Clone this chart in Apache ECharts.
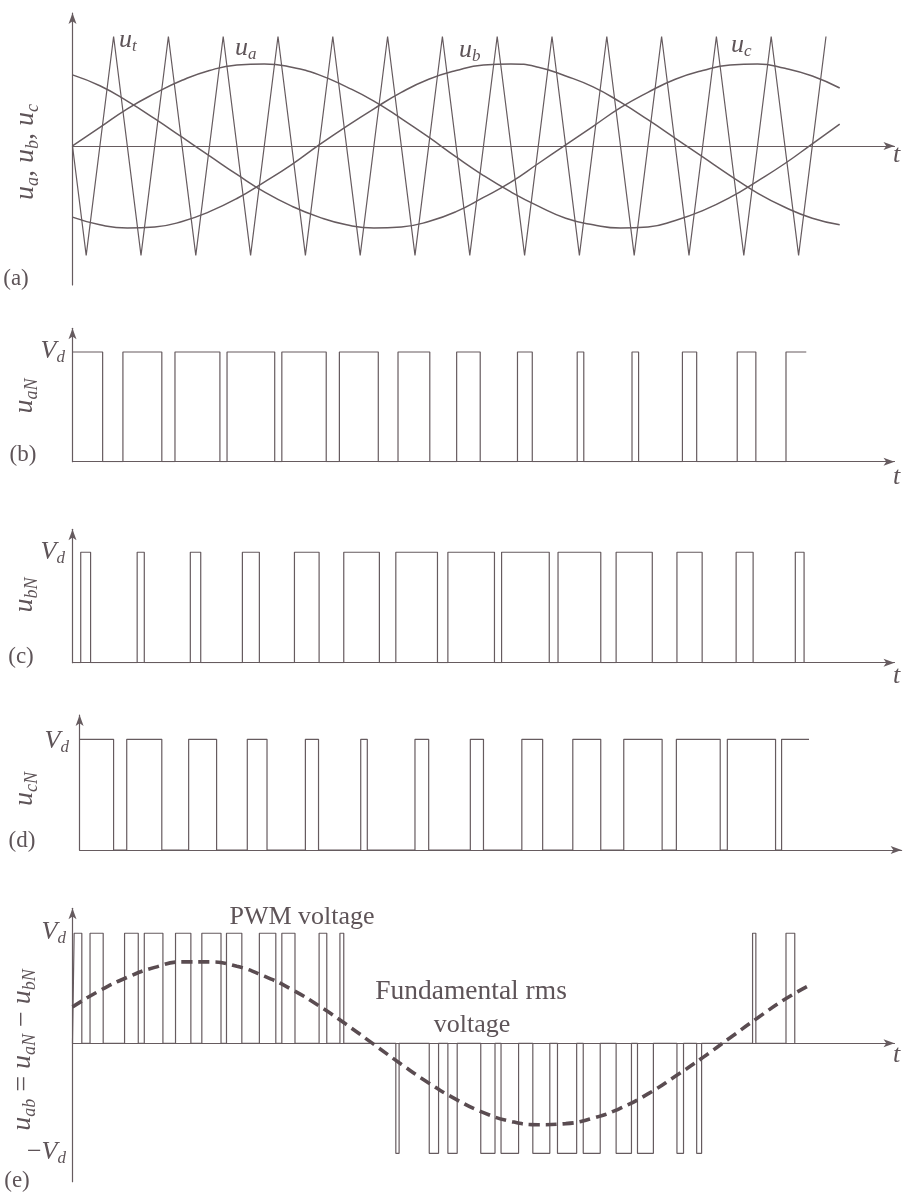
<!DOCTYPE html>
<html>
<head>
<meta charset="utf-8">
<script src="https://cdn.jsdelivr.net/npm/echarts@6/dist/echarts.min.js"></script>
<style>
html,body{margin:0;padding:0;background:#fff;}
#chart{width:905px;height:1198px;}
</style>
</head>
<body>
<div id="chart"></div>
<script>
// ---------- DATA (time in carrier periods, amplitude in p.u.) ----------
// (a) triangular carrier vertices
const carrierT = [0, 0.25, 0.75, 1.25, 1.75, 2.25, 2.75, 3.25, 3.75, 4.25, 4.75, 5.25, 5.75, 6.25, 6.75,
  7.25, 7.75, 8.25, 8.75, 9.25, 9.75, 10.25, 10.75, 11.25, 11.75, 12.25, 12.75, 13.25, 13.75];
const carrierV = [0, -1, 1, -1, 1, -1, 1, -1, 1, -1, 1, -1, 1, -1, 1,
  -1, 1, -1, 1, -1, 1, -1, 1, -1, 1, -1, 1, -1, 1];
// (a) reference sine waves, sampled
const sineT = [0, 0.5, 1, 1.5, 2, 2.5, 3, 3.5, 4, 4.5, 5, 5.5, 6, 6.5, 7, 7.5, 8, 8.5, 9, 9.5,
  10, 10.5, 11, 11.5, 12, 12.5, 13, 13.5, 14];
const ua = [0, 0.17, 0.34, 0.48, 0.60, 0.69, 0.74, 0.75, 0.72, 0.65, 0.54, 0.41, 0.25, 0.08, -0.10,
  -0.27, -0.42, -0.55, -0.66, -0.72, -0.75, -0.74, -0.68, -0.59, -0.47, -0.32, -0.16, 0.02, 0.20];
const ub = [-0.65, -0.72, -0.75, -0.74, -0.69, -0.60, -0.48, -0.33, -0.17, 0.01, 0.18, 0.34, 0.49, 0.61, 0.69,
  0.74, 0.75, 0.72, 0.64, 0.54, 0.40, 0.24, 0.07, -0.10, -0.27, -0.43, -0.56, -0.66, -0.72];
const uc = [0.65, 0.55, 0.41, 0.25, 0.08, -0.09, -0.26, -0.42, -0.55, -0.65, -0.72, -0.75, -0.74, -0.69, -0.60,
  -0.47, -0.33, -0.16, 0.01, 0.18, 0.35, 0.49, 0.61, 0.69, 0.74, 0.75, 0.71, 0.64, 0.53];

// (b) u_aN switching instants (starts high)
const uaNEdges = [0.55, 0.92, 1.63, 1.87, 2.69, 2.82, 3.69, 3.82, 4.63, 4.87, 5.58, 5.94, 6.52, 7.01,
  7.44, 8.12, 8.39, 9.21, 9.33, 10.21, 10.33, 11.13, 11.39, 12.13, 12.47, 13.02];
const uaNStart = 1, uaNEnd = 13.39;
// (c) u_bN switching instants (starts low)
const ubNEdges = [0.15, 0.33, 1.18, 1.31, 2.15, 2.34, 3.10, 3.41, 4.05, 4.50, 4.95, 5.60, 5.90, 6.66,
  6.85, 7.70, 7.83, 8.70, 8.86, 9.64, 9.92, 10.58, 11.03, 11.49, 12.11, 12.42, 13.19, 13.35];
const ubNStart = 0, ubNEnd = 13.35;
// (d) u_cN switching instants (starts high)
const ucNEdges = [0.62, 0.86, 1.50, 1.99, 2.50, 3.06, 3.42, 4.12, 4.36, 5.13, 5.25, 6.12, 6.37, 7.13,
  7.37, 8.07, 8.45, 9.00, 9.51, 9.93, 10.63, 10.89, 11.69, 11.82, 12.70, 12.81];
const ucNStart = 1, ucNEnd = 13.31;
// (e) line-to-line PWM pulses
const uabStart = [0.03, 0.32, 0.95, 1.31, 1.88, 2.36, 2.81, 3.41, 3.82, 4.50, 4.88,
  5.90, 6.51, 6.85, 7.45, 7.82, 8.40, 8.85, 9.32, 9.92, 10.31, 11.03, 11.39, 12.41, 13.02];
const uabEnd = [0.17, 0.56, 1.20, 1.65, 2.16, 2.71, 3.09, 3.71, 4.06, 4.64, 4.95,
  5.96, 6.68, 7.02, 7.71, 8.14, 8.71, 9.20, 9.63, 10.20, 10.60, 11.15, 11.48, 12.47, 13.18];
const uabLevel = [1, 1, 1, 1, 1, 1, 1, 1, 1, 1, 1,
  -1, -1, -1, -1, -1, -1, -1, -1, -1, -1, -1, -1, 1, 1];
// (e) fundamental (dashed)
const fundT = [0, 0.5, 1, 1.5, 2, 2.5, 3, 3.5, 4, 4.5, 5, 5.5, 6, 6.5, 7, 7.5, 8, 8.5, 9, 9.5,
  10, 10.5, 11, 11.5, 12, 12.5, 13, 13.42];
const fundV = [0.33, 0.48, 0.60, 0.69, 0.74, 0.74, 0.70, 0.61, 0.49, 0.34, 0.17, -0.01, -0.19, -0.36,
  -0.51, -0.63, -0.71, -0.74, -0.73, -0.68, -0.59, -0.46, -0.30, -0.13, 0.05, 0.23, 0.40, 0.52];

// ---------- helpers ----------
function pairs(xs, ys) { return xs.map((x, i) => [x, ys[i]]); }
function stepWave(edges, startLevel, endT) {
  const pts = [[0, startLevel]];
  let lvl = startLevel;
  edges.forEach(t => { pts.push([t, lvl]); lvl = 1 - lvl; pts.push([t, lvl]); });
  pts.push([endT, lvl]);
  return pts;
}
function pulseWave(starts, ends, levels) {
  const pts = [[0, 0]];
  starts.forEach((s, i) => {
    pts.push([s, 0], [s, levels[i]], [ends[i], levels[i]], [ends[i], 0]);
  });
  return pts;
}

const LINE = '#665b5f';
const TEXT = '#5e5458';
const SERIF = '"Liberation Serif", "DejaVu Serif", serif';
const PXT = 54.8; // px per carrier period

const grids = [
  { left: 72.5, top: 13, height: 272 },
  { left: 72.5, top: 328.3, height: 133.4 },
  { left: 72.5, top: 529.3, height: 133.4 },
  { left: 79.6, top: 715, height: 135 },
  { left: 72.5, top: 908.3, height: 273.4 }
].map(g => Object.assign({ width: 15 * PXT, containLabel: false }, g));
const yRanges = [[-1.27, 1.215], [0, 1.216], [0, 1.208], [0, 1.22], [-1.258, 1.227]];

const axisLine = {
  show: true, onZero: true, symbol: ['none', 'arrow'], symbolSize: [6, 11],
  lineStyle: { color: LINE, width: 1.2 }
};
const xAxes = grids.map((g, i) => ({
  type: 'value', gridIndex: i, min: 0, max: 15,
  axisLine, axisTick: { show: false }, axisLabel: { show: false }, splitLine: { show: false }
}));
const yAxes = grids.map((g, i) => ({
  type: 'value', gridIndex: i, min: yRanges[i][0], max: yRanges[i][1],
  axisLine, axisTick: { show: false }, axisLabel: { show: false }, splitLine: { show: false }
}));

function lineSeries(idx, data, extra) {
  return Object.assign({
    type: 'line', xAxisIndex: idx, yAxisIndex: idx, data,
    symbol: 'none', showSymbol: false, silent: true, animation: false,
    lineStyle: { color: LINE, width: 1.2 }
  }, extra || {});
}

const series = [
  lineSeries(0, pairs(carrierT, carrierV)),
  lineSeries(0, pairs(sineT, ua), { smooth: true, lineStyle: { color: LINE, width: 1.5 } }),
  lineSeries(0, pairs(sineT, ub), { smooth: true, lineStyle: { color: LINE, width: 1.5 } }),
  lineSeries(0, pairs(sineT, uc), { smooth: true, lineStyle: { color: LINE, width: 1.5 } }),
  lineSeries(1, stepWave(uaNEdges, uaNStart, uaNEnd)),
  lineSeries(2, stepWave(ubNEdges, ubNStart, ubNEnd)),
  lineSeries(3, stepWave(ucNEdges, ucNStart, ucNEnd)),
  lineSeries(4, pulseWave(uabStart, uabEnd, uabLevel)),
  lineSeries(4, pairs(fundT, fundV), {
    smooth: true, z: 5,
    lineStyle: { color: '#5a4c51', width: 3.6, type: [11, 6], cap: 'butt' }
  })
];

// ---------- text ----------
const rich = {
  m: { fontFamily: SERIF, fontStyle: 'italic', fontSize: 26, lineHeight: 30, fill: TEXT },
  s: { fontFamily: SERIF, fontStyle: 'italic', fontSize: 17, lineHeight: 17, verticalAlign: 'bottom', fill: TEXT },
  r: { fontFamily: SERIF, fontSize: 26, lineHeight: 30, fill: TEXT },
  M: { fontFamily: SERIF, fontStyle: 'italic', fontSize: 28, lineHeight: 32, fill: TEXT },
  S: { fontFamily: SERIF, fontStyle: 'italic', fontSize: 18, lineHeight: 18, verticalAlign: 'bottom', fill: TEXT },
  R: { fontFamily: SERIF, fontSize: 28, lineHeight: 32, fill: TEXT }
};
function txt(text, x, y, align, rotation) {
  return {
    type: 'text', x, y, rotation: rotation || 0, silent: true,
    style: { text, rich, align: align || 'left', verticalAlign: 'middle',
      textAlign: align || 'left', textVerticalAlign: 'middle', fill: TEXT }
  };
}
function plain(text, x, y, size) {
  return {
    type: 'text', x, y, silent: true,
    style: { text, font: (size || 26) + 'px ' + SERIF, fill: TEXT,
      align: 'center', verticalAlign: 'middle', textAlign: 'center', textVerticalAlign: 'middle' }
  };
}
const R = Math.PI / 2;
const texts = [
  // (a)
  txt('{m|u}{s|t}', 119, 40),
  txt('{m|u}{s|a}', 235, 48),
  txt('{m|u}{s|b}', 459, 50),
  txt('{m|u}{s|c}', 731, 45),
  txt('{M|u}{S|a}{M|, u}{S|b}{M|, u}{S|c}', 26, 152, 'center', R),
  plain('(a)', 16, 279, 23),
  txt('{m|t}', 893, 155),
  // (b)
  txt('{m|V}{s|d}', 65, 351, 'right'),
  txt('{M|u}{S|aN}', 25, 396, 'center', R),
  plain('(b)', 23, 455, 23),
  txt('{m|t}', 893, 477),
  // (c)
  txt('{m|V}{s|d}', 65, 552, 'right'),
  txt('{M|u}{S|bN}', 25, 595, 'center', R),
  plain('(c)', 21, 657, 23),
  txt('{m|t}', 893, 676),
  // (d)
  txt('{m|V}{s|d}', 69, 741, 'right'),
  txt('{M|u}{S|cN}', 25, 789, 'center', R),
  plain('(d)', 22, 841, 23),
  // (e)
  txt('{m|V}{s|d}', 66, 932, 'right'),
  txt('{r|−}{m|V}{s|d}', 66, 1152, 'right'),
  txt('{M|u}{S|ab}{R| = }{M|u}{S|aN}{R| − }{M|u}{S|bN}', 23, 1050, 'center', R),
  plain('(e)', 17, 1181, 23),
  plain('PWM voltage', 302, 917, 26),
  plain('Fundamental rms', 471, 992, 27.5),
  plain('voltage', 472, 1025, 26),
  txt('{m|t}', 893, 1055)
];

const chart = echarts.init(document.getElementById('chart'), null, { renderer: 'canvas' });
chart.setOption({
  animation: false,
  backgroundColor: '#ffffff',
  grid: grids,
  xAxis: xAxes,
  yAxis: yAxes,
  series,
  graphic: { elements: texts }
});
</script>
</body>
</html>
